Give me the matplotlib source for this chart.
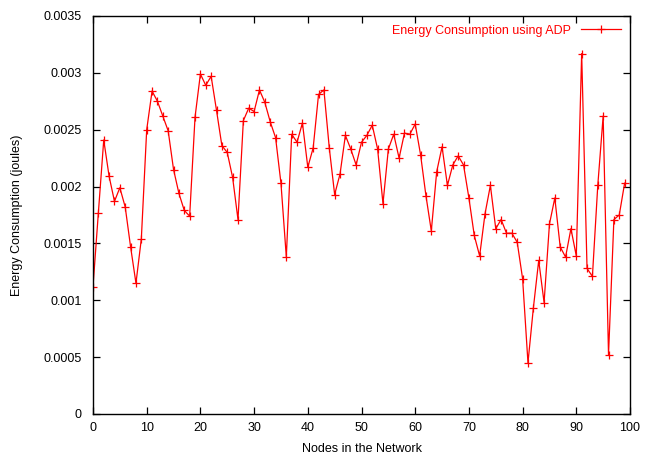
import numpy as np
import matplotlib
matplotlib.use("Agg")
import matplotlib.pyplot as plt

plt.rcParams['font.family'] = ['Liberation Sans', 'DejaVu Sans']

# energy per node (joules), nodes 0..99
nodes = list(range(100))
energy = [
    0.00112, 0.00177, 0.00241, 0.00209, 0.00187, 0.00199, 0.00182, 0.00147, 0.00115, 0.00154,
    0.00250, 0.00284, 0.00275, 0.00262, 0.00249, 0.00215, 0.00194, 0.00179, 0.00174, 0.00261,
    0.00299, 0.00289, 0.00297, 0.00267, 0.00236, 0.00230, 0.00208, 0.00171, 0.00258, 0.00269,
    0.00266, 0.00285, 0.00274, 0.00257, 0.00243, 0.00203, 0.00138, 0.00246, 0.00239, 0.00256,
    0.00217, 0.00234, 0.00281, 0.00285, 0.00234, 0.00193, 0.00211, 0.00245, 0.00233, 0.00219,
    0.00239, 0.00245, 0.00254, 0.00233, 0.00185, 0.00233, 0.00246, 0.00225, 0.00247, 0.00246,
    0.00255, 0.00228, 0.00192, 0.00161, 0.00213, 0.00235, 0.00201, 0.00219, 0.00227, 0.00219,
    0.00190, 0.00157, 0.00139, 0.00176, 0.00201, 0.00163, 0.00171, 0.00159, 0.00159, 0.00151,
    0.00119, 0.00045, 0.00093, 0.00135, 0.00098, 0.00167, 0.00190, 0.00147, 0.00138, 0.00163,
    0.00139, 0.00317, 0.00128, 0.00121, 0.00201, 0.00262, 0.00052, 0.00171, 0.00175, 0.00203,
]

x_ticks = list(range(0, 101, 10))
y_ticks = [0, 0.0005, 0.001, 0.0015, 0.002, 0.0025, 0.003, 0.0035]
y_labels = ['0', '0.0005', '0.001', '0.0015', '0.002', '0.0025', '0.003', '0.0035']

fig = plt.figure(figsize=(6.52, 4.54), dpi=100)
ax = fig.add_axes([93 / 652, 40 / 454, 537 / 652, 398 / 454])

ax.plot(nodes, energy, color='red', lw=0.9, marker='+', ms=6, mew=0.9,
        label='Energy Consumption using ADP')

ax.set_xlim(0, 100)
ax.set_ylim(0, 0.0035)
ax.set_xticks(x_ticks)
ax.set_yticks(y_ticks)
ax.set_yticklabels(y_labels)
ax.tick_params(direction='in', top=True, right=True, length=5, width=0.9,
               labelsize=9)
ax.tick_params(axis='x', pad=6)
ax.tick_params(axis='y', pad=8)
for s in ax.spines.values():
    s.set_linewidth(1.0)

ax.set_xlabel('Nodes in the Network', fontsize=9, labelpad=6)
ax.set_ylabel('Energy Consumption (joules)', fontsize=9, labelpad=15)

leg = ax.legend(loc='upper right', frameon=False, fontsize=9, markerfirst=False,
                handlelength=3.2, borderaxespad=0.3, handletextpad=0.8)
for t in leg.get_texts():
    t.set_color('red')

fig.savefig('out.png', dpi=100)
